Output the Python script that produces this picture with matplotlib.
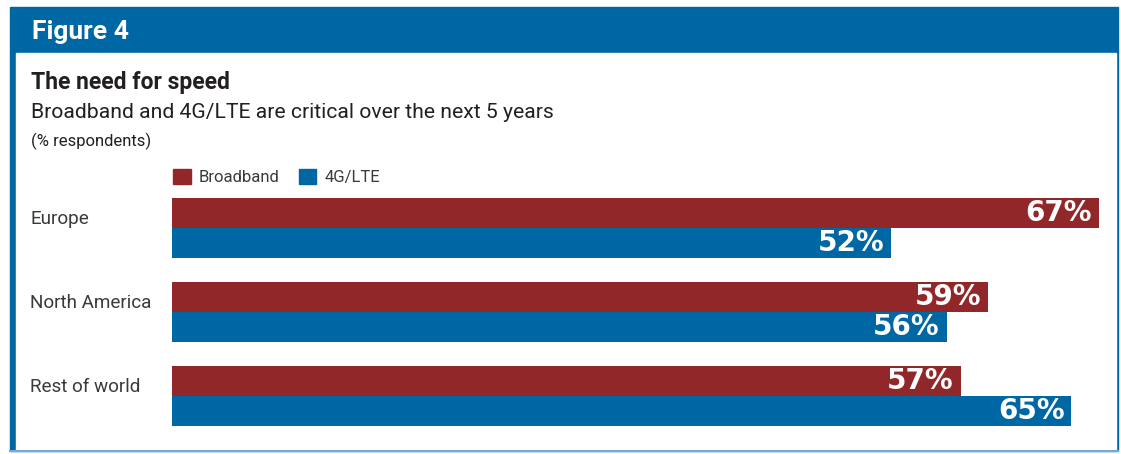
import numpy as np
import matplotlib
matplotlib.use("Agg")
import matplotlib.pyplot as plt
import matplotlib.transforms as mtransforms
from matplotlib.patches import Rectangle
from matplotlib.lines import Line2D

# data
regions = ["Europe", "North America", "Rest of world"]
broadband = [67, 59, 57]
lte = [52, 56, 65]
series_names = ["Broadband", "4G/LTE"]

red = "#92272a"
blue = "#0067a5"
text_dark = "#231f20"
text_grey = "#3a3a3a"

plt.rcParams["font.family"] = ["Roboto", "DejaVu Sans"]

W, H = 1121, 454
fig = plt.figure(figsize=(W / 100, H / 100), dpi=100)


def fx(x):
    return x / W


def fy(y):
    return 1 - y / H


def box(x0, y0, x1, y1):
    return [fx(x0), fy(y1), (x1 - x0) / W, (y1 - y0) / H]


# frame: blue box, white panel, light bottom rule
fig.patches.append(Rectangle((fx(10), fy(451)), (1118 - 10) / W, (451 - 7) / H,
                             transform=fig.transFigure, color=blue, zorder=-2))
fig.patches.append(Rectangle((fx(16), fy(450)), (1116 - 16) / W, (450 - 53) / H,
                             transform=fig.transFigure, color="white", zorder=-1))
fig.lines.append(Line2D([fx(10), fx(1118)], [fy(451), fy(451)],
                        transform=fig.transFigure, color="#7aaad3", lw=1.5))

# titles
fig.text(fx(32), fy(39), "Figure 4", color="white", fontsize=19,
         fontweight="bold", va="baseline")
fig.text(fx(31), fy(89), "The need for speed", color=text_dark, fontsize=16.5,
         fontweight="bold", va="baseline")
fig.text(fx(31), fy(118), "Broadband and 4G/LTE are critical over the next 5 years",
         color=text_dark, fontsize=15.2, va="baseline")
fig.text(fx(31), fy(146), "(% respondents)", color=text_dark, fontsize=12,
         va="baseline")

# bars
ax = fig.add_axes(box(172, 198, 1099, 426))
ax.set_zorder(1)
h = 30 / 84
y = np.arange(len(regions))
ax.barh(y - h / 2, broadband, height=h, color=red)
ax.barh(y + h / 2, lte, height=h, color=blue)
ax.set_xlim(0, max(broadband + lte))
ax.set_ylim(len(regions) - 1 + h, -h)
ax.axis("off")

for yy, vals in ((y - h / 2, broadband), (y + h / 2, lte)):
    for yi, v in zip(yy, vals):
        ax.annotate(f"{v}%", xy=(v, yi), xytext=(-5, 0), textcoords="offset points",
                    ha="right", va="center", color="white", fontsize=20,
                    fontweight="bold", family="DejaVu Sans")

trans = mtransforms.blended_transform_factory(fig.transFigure, ax.transData)
for i, r in enumerate(regions):
    ax.text(fx(30), i - 4 / 84, r, transform=trans, ha="left", va="baseline",
            fontsize=13.6, color=text_grey, clip_on=False)

# legend
handles = [Rectangle((0, 0), 1, 1, color=red), Rectangle((0, 0), 1, 1, color=blue)]
fig.legend(handles, series_names, loc="center left",
           bbox_to_anchor=(fx(173), fy(177)), ncol=2, frameon=False,
           fontsize=12, handlelength=1.05, handleheight=1.05, handletextpad=0.5,
           columnspacing=1.15, borderpad=0, borderaxespad=0,
           labelcolor=text_grey)

fig.savefig("out.png", dpi=100)
